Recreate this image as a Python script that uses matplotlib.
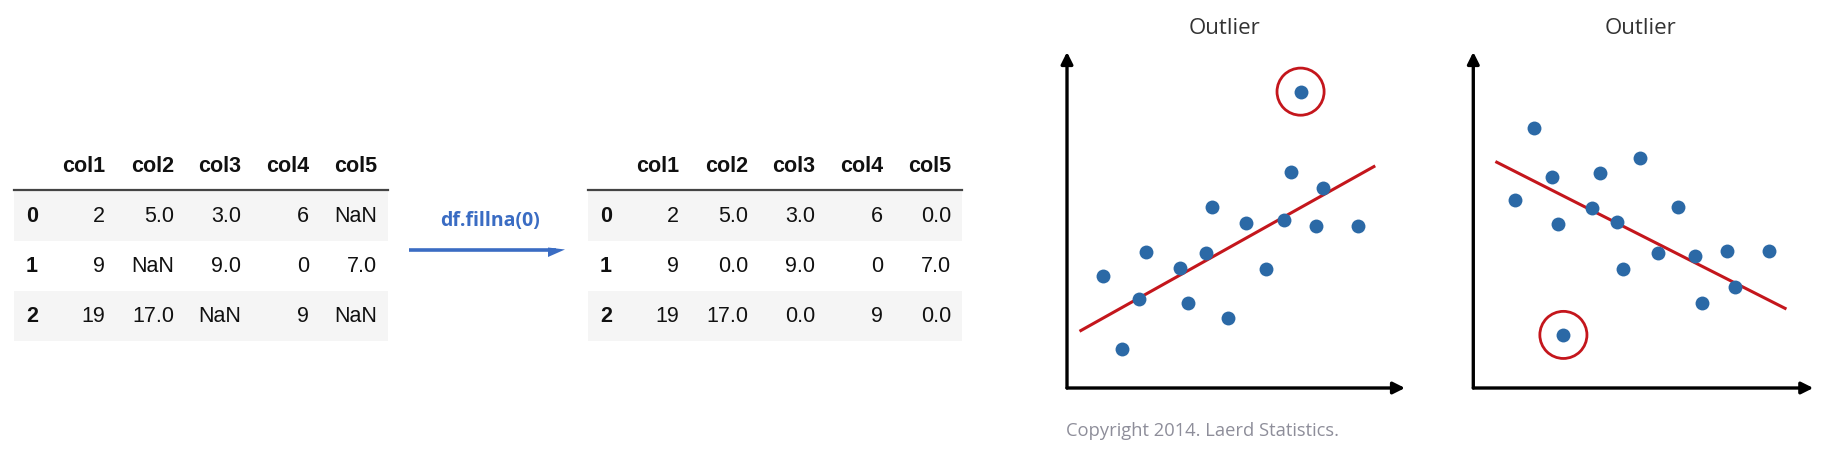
import matplotlib
matplotlib.use("Agg")
import matplotlib.pyplot as plt
from matplotlib.patches import Rectangle, Polygon

# --- data ---
columns = ["col1", "col2", "col3", "col4", "col5"]
index = ["0", "1", "2"]
before = [["2", "5.0", "3.0", "6", "NaN"],
          ["9", "NaN", "9.0", "0", "7.0"],
          ["19", "17.0", "NaN", "9", "NaN"]]
after = [["2", "5.0", "3.0", "6", "0.0"],
         ["9", "0.0", "9.0", "0", "7.0"],
         ["19", "17.0", "0.0", "9", "0.0"]]
arrow_label = "df.fillna(0)"

# scatter 1: outlier above the trend
x1 = [6.62, 7.58, 4.28, 5.30, 6.42, 7.36, 8.60, 2.34, 4.10, 3.34, 5.89, 1.07, 2.14, 3.58, 4.77, 1.64]
y1 = [6.44, 5.94, 5.40, 4.92, 5.00, 4.83, 4.83, 4.04, 4.01, 3.58, 3.53, 3.33, 2.65, 2.52, 2.09, 1.16]
out1 = (6.91, 8.82)
fit1_x = [0.41, 9.08]
fit1_y = [1.71, 6.59]

# scatter 2: outlier below the trend
x2 = [1.79, 4.90, 3.73, 2.31, 1.23, 6.01, 3.48, 2.48, 4.24, 5.42, 6.52, 7.47, 8.71, 4.41, 7.70, 6.74]
y2 = [7.75, 6.84, 6.41, 6.29, 5.60, 5.40, 5.35, 4.88, 4.93, 4.01, 3.93, 4.09, 4.09, 3.54, 3.00, 2.52]
out2 = (2.65, 1.58)
fit2_x = [0.69, 9.17]
fit2_y = [6.72, 2.37]

W, H = 1823, 453
fig = plt.figure(figsize=(W / 100, H / 100), dpi=100)
plt.rcParams["font.family"] = ["Liberation Sans", "DejaVu Sans"]

# overlay axes in pixel units for the tables and the arrow
ax0 = fig.add_axes([0, 0, 1, 1])
ax0.set_xlim(0, W)
ax0.set_ylim(H, 0)
ax0.axis("off")

col_right = [91, 160, 227, 295, 363]
table_w = 374
head_base = 172
line_y = 190
row_h = 50


def draw_table(left, cells):
    for i, name in enumerate(columns):
        ax0.text(left + col_right[i], head_base, name, ha="right", va="baseline",
                 fontsize=15.5, fontweight="bold", color="#111")
    ax0.plot([left, left + table_w], [line_y, line_y], color="#444", lw=1.6)
    for r, idx in enumerate(index):
        top = line_y + 1 + r * row_h
        if r % 2 == 0:
            ax0.add_patch(Rectangle((left, top), table_w, row_h, color="#f5f5f5", lw=0))
        base = top + 31
        ax0.text(left + 12, base, idx, ha="left", va="baseline",
                 fontsize=15.5, fontweight="bold", color="#111")
        for c, val in enumerate(cells[r]):
            ax0.text(left + col_right[c], base, val, ha="right", va="baseline",
                     fontsize=15.5, color="#111")


draw_table(14, before)
draw_table(588, after)

# fillna arrow
blue = "#3a6cc3"
ax0.text(490, 221, arrow_label, ha="center", va="center", fontsize=14,
         fontweight="bold", color=blue, family=["Open Sans", "DejaVu Sans"])
ax0.plot([409, 556], [250, 250], color=blue, lw=2.6, solid_capstyle="butt")
ax0.add_patch(Polygon([[548, 247.5], [565, 249.5], [548, 257]], closed=True, color=blue, lw=0))

# titles and copyright
ax0.text(1224, 28, "Outlier", ha="center", va="center", fontsize=16,
         color="#333", family=["Open Sans", "DejaVu Sans"])
ax0.text(1641, 28, "Outlier", ha="center", va="center", fontsize=16,
         color="#333", family=["Open Sans", "DejaVu Sans"])
ax0.text(1066, 431, "Copyright 2014. Laerd Statistics.", ha="left", va="center",
         fontsize=13.2, color="#8e8e9a", family=["Open Sans", "DejaVu Sans"])

dot = "#2b69a6"
red = "#c4161c"


def scatter_panel(rect, xs, ys, out, fx, fy):
    ax = fig.add_axes(rect)
    ax.set_xlim(0, 10)
    ax.set_ylim(0, 10)
    ax.axis("off")
    arrow = dict(arrowstyle="-|>,head_length=0.7,head_width=0.35", color="black",
                 lw=2.4, shrinkA=0, shrinkB=0)
    ax.annotate("", xy=(10, 0), xytext=(0, 0), arrowprops=arrow, annotation_clip=False)
    ax.annotate("", xy=(0, 10), xytext=(0, 0), arrowprops=arrow, annotation_clip=False)
    ax.plot(fx, fy, color=red, lw=2.2, zorder=3)
    ax.scatter(xs + [out[0]], ys + [out[1]], s=100, color=dot, lw=0, zorder=4, clip_on=False)
    ax.scatter([out[0]], [out[1]], s=1150, facecolor="none", edgecolor=red, lw=2.0,
               zorder=5, clip_on=False)
    return ax


scatter_panel([1067 / W, 65 / H, 338 / W, 336 / H], x1, y1, out1, fit1_x, fit1_y)
scatter_panel([1473.3 / W, 65 / H, 340 / W, 336 / H], x2, y2, out2, fit2_x, fit2_y)

plt.savefig("out.png", dpi=100)
